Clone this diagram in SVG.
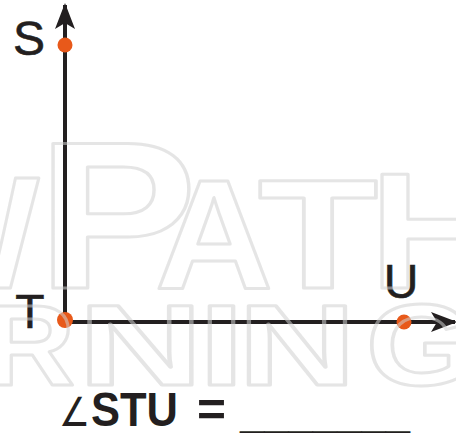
<svg xmlns="http://www.w3.org/2000/svg" width="456" height="434" viewBox="0 0 456 434">
<defs>
<style>
.lbl{font-family:"Liberation Sans",Arial,sans-serif;font-size:48px;fill:#231f20;text-anchor:middle;stroke:#231f20;stroke-width:0.6}
.eq{font-family:"Liberation Sans",Arial,sans-serif;font-size:48px;font-weight:bold;fill:#231f20}
.wm{font-family:"Liberation Sans",Arial,sans-serif;font-weight:bold;fill:none;stroke:#cfcfcf;stroke-opacity:0.55;stroke-width:3;stroke-linejoin:round}
.ray{stroke:#231f20;stroke-width:4;fill:none}
.dot{fill:#e8591a}
</style>
<marker id="arr" viewBox="0 0 26 20" refX="24" refY="10" markerWidth="26" markerHeight="20" markerUnits="userSpaceOnUse" orient="auto">
<path d="M0,0 L26,10 L0,20 L6,10 Z" fill="#231f20"/>
</marker>
</defs>
<rect width="456" height="434" fill="#ffffff"/>
<g id="connectors">
<line class="ray" x1="65" y1="322" x2="65" y2="5" marker-end="url(#arr)"/>
<line class="ray" x1="65" y1="322" x2="455" y2="322" marker-end="url(#arr)"/>
</g>
<g id="S"><circle class="dot" cx="65" cy="45" r="7.5"/><text class="lbl" x="29" y="55">S</text></g>
<g id="T"><circle class="dot" cx="65" cy="320" r="8"/><text class="lbl" x="30" y="328">T</text></g>
<g id="U"><circle class="dot" cx="404" cy="322" r="7.5"/><text class="lbl" x="401" y="298">U</text></g>
<g id="watermark">
<text class="wm" x="-112" y="288" font-size="160">W</text>
<text class="wm" x="37" y="288" font-size="210" textLength="160" lengthAdjust="spacingAndGlyphs">P</text>
<text class="wm" x="155" y="288" font-size="155" textLength="118" lengthAdjust="spacingAndGlyphs">A</text>
<text class="wm" x="258" y="288" font-size="155" textLength="120" lengthAdjust="spacingAndGlyphs">T</text>
<text class="wm" x="370" y="288" font-size="165" textLength="130" lengthAdjust="spacingAndGlyphs">H</text>
<text class="wm" x="-15" y="385" font-size="115" textLength="90" lengthAdjust="spacingAndGlyphs">R</text>
<text class="wm" x="78" y="385" font-size="115" textLength="125" lengthAdjust="spacingAndGlyphs">N</text>
<text class="wm" x="199" y="385" font-size="115" textLength="45" lengthAdjust="spacingAndGlyphs">I</text>
<text class="wm" x="238" y="385" font-size="115" textLength="118" lengthAdjust="spacingAndGlyphs">N</text>
<text class="wm" x="366" y="385" font-size="115" textLength="110" lengthAdjust="spacingAndGlyphs">G</text>
</g>
<g id="label">
<text x="59" y="426" font-family="DejaVu Sans,sans-serif" font-size="40" fill="#231f20" textLength="31" lengthAdjust="spacingAndGlyphs">∠</text>
<text class="eq" x="91" y="426" textLength="87" lengthAdjust="spacingAndGlyphs">STU</text>
<text class="eq" x="197" y="426" textLength="29" lengthAdjust="spacingAndGlyphs">=</text>
<text class="eq" x="240" y="427" textLength="170" lengthAdjust="spacingAndGlyphs">_______</text>
</g>
</svg>
